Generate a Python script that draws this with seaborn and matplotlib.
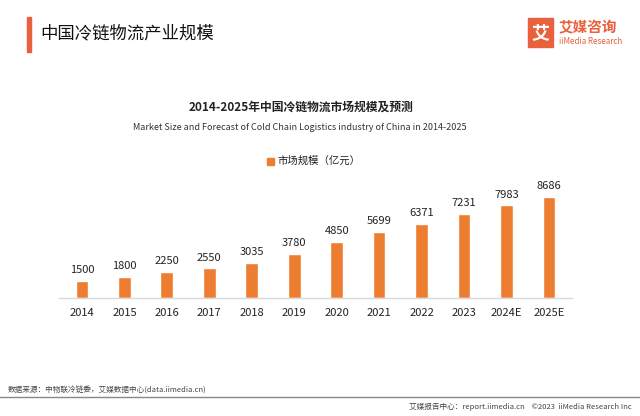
import matplotlib
matplotlib.use("Agg")
import matplotlib.pyplot as plt
from matplotlib.patches import Rectangle
import seaborn as sns
import pandas as pd

years = ["2014", "2015", "2016", "2017", "2018", "2019", "2020", "2021",
         "2022", "2023", "2024E", "2025E"]
market_size = [1500, 1800, 2250, 2550, 3035, 3780, 4850, 5699, 6371, 7231, 7983, 8686]
series_name = "市场规模（亿元）"

ORANGE = "#ED7D31"
FONTS = ["Noto Sans CJK SC", "DejaVu Sans"]

sns.set_theme(style="white")
plt.rcParams["font.family"] = FONTS

df = pd.DataFrame({"year": years, "value": market_size})

fig = plt.figure(figsize=(6.4, 4.16), dpi=100)
ax = fig.add_axes([0.0916, 0.2837, 0.8025, 0.2837])

sns.barplot(data=df, x="year", y="value", color=ORANGE, width=0.3,
            saturation=1, ax=ax)
ax.bar_label(ax.containers[0], labels=[str(v) for v in market_size],
             padding=4, fontsize=8, color="#222222")

ax.set_xlim(-0.55, 11.55)
ax.set_ylim(0, 10150)
ax.set_xlabel("")
ax.set_ylabel("")
ax.set_yticks([])
for s in ["top", "left", "right"]:
    ax.spines[s].set_visible(False)
ax.spines["bottom"].set_color("#d9d9d9")
ax.spines["bottom"].set_linewidth(1)
ax.tick_params(axis="x", length=0, labelsize=8, colors="#222222", pad=7)

# header
fig.add_artist(Rectangle((27 / 640, 1 - 52 / 416), 4 / 640, 35 / 416,
                         color="#E8603C", transform=fig.transFigure))
fig.text(40 / 640, 1 - 33 / 416, "中国冷链物流产业规模", fontsize=12.5,
         fontweight="medium", color="#111111", va="center")

# logo
fig.add_artist(Rectangle((528 / 640, 1 - 47 / 416), 25 / 640, 29 / 416,
                         color="#E8603C", transform=fig.transFigure))
fig.text(540.5 / 640, 1 - 33 / 416, "艾", fontsize=13, fontweight="bold",
         color="white", ha="center", va="center")
fig.text(559 / 640, 1 - 27 / 416, "艾媒咨询", fontsize=10.5, fontweight="bold",
         color="#E8603C", va="center")
fig.text(559 / 640, 1 - 42 / 416, "iiMedia Research", fontsize=5.8,
         color="#E8603C", va="center")

# chart titles
fig.text(301 / 640, 1 - 107 / 416, "2014-2025年中国冷链物流市场规模及预测", fontsize=8.5,
         fontweight="bold", color="#222222", ha="center", va="center")
fig.text(300 / 640, 1 - 127 / 416,
         "Market Size and Forecast of Cold Chain Logistics industry of China in 2014-2025",
         fontsize=6.5, color="#333333", ha="center", va="center")

# legend
fig.add_artist(Rectangle((267 / 640, 1 - 165 / 416), 7 / 640, 7 / 416,
                         color=ORANGE, transform=fig.transFigure))
fig.text(278 / 640, 1 - 161 / 416, series_name, fontsize=7.5,
         color="#222222", va="center")

# footer
fig.text(8 / 640, 1 - 390 / 416, "数据来源：中物联冷链委，艾媒数据中心(data.iimedia.cn)",
         fontsize=5.5, color="#444444", va="center")
fig.add_artist(plt.Line2D([0, 1], [1 - 397 / 416, 1 - 397 / 416],
                          color="#888888", linewidth=1, transform=fig.transFigure))
fig.text(632 / 640, 1 - 407 / 416,
         "艾媒报告中心：report.iimedia.cn    ©2023  iiMedia Research Inc",
         fontsize=5.5, color="#444444", ha="right", va="center")

fig.savefig("out.png", dpi=100)
